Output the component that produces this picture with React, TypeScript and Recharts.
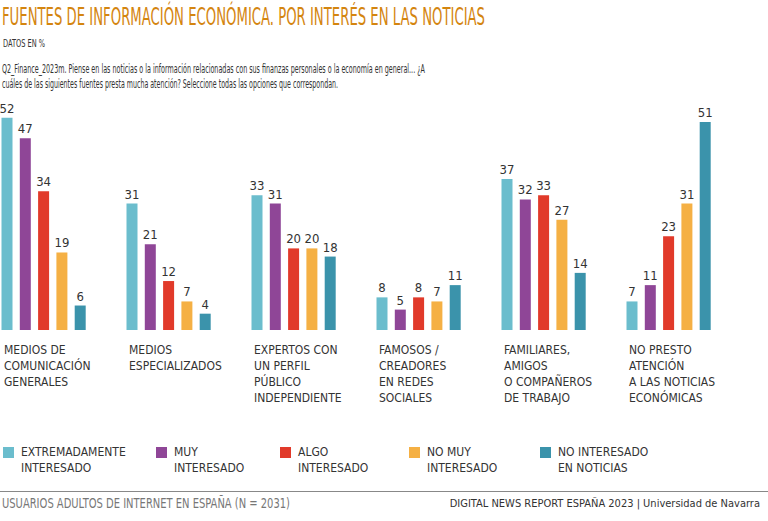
import React from 'react';
import { BarChart, Bar, XAxis, YAxis, LabelList } from 'recharts';

const categories = [
  ['MEDIOS DE', 'COMUNICACIÓN', 'GENERALES'],
  ['MEDIOS', 'ESPECIALIZADOS'],
  ['EXPERTOS CON', 'UN PERFIL', 'PÚBLICO', 'INDEPENDIENTE'],
  ['FAMOSOS /', 'CREADORES', 'EN REDES', 'SOCIALES'],
  ['FAMILIARES,', 'AMIGOS', 'O COMPAÑEROS', 'DE TRABAJO'],
  ['NO PRESTO', 'ATENCIÓN', 'A LAS NOTICIAS', 'ECONÓMICAS'],
];

const extremadamente = [52, 31, 33, 8, 37, 7];
const muy = [47, 21, 31, 5, 32, 11];
const algo = [34, 12, 20, 8, 33, 23];
const noMuy = [19, 7, 20, 7, 27, 31];
const noInteresado = [6, 4, 18, 11, 14, 51];

const seriesNames = [
  ['EXTREMADAMENTE', 'INTERESADO'],
  ['MUY', 'INTERESADO'],
  ['ALGO', 'INTERESADO'],
  ['NO MUY', 'INTERESADO'],
  ['NO INTERESADO', 'EN NOTICIAS'],
];
const seriesKeys = ['ext', 'muy', 'algo', 'noMuy', 'noInt'];
const COLORS = ['#6bbdcd', '#8f4697', '#e13a2a', '#f5b044', '#3b93ab'];

const data = categories.map((c, i) => ({
  cat: i,
  ext: extremadamente[i],
  muy: muy[i],
  algo: algo[i],
  noMuy: noMuy[i],
  noInt: noInteresado[i],
}));

const FONT = "'Liberation Sans Narrow', 'DejaVu Sans Condensed', sans-serif";

const CategoryTick = (props: any) => {
  const { x, y, payload } = props;
  const lines = categories[payload.value];
  return (
    <text x={x - 40} y={y + 16} fill="#333" fontSize={12} fontFamily={FONT}>
      {lines.map((l, i) => (
        <tspan key={i} x={x - 40} dy={i === 0 ? 0 : 16}>{l}</tspan>
      ))}
    </text>
  );
};

const legendX = [3, 156, 280, 409, 540];

export default function App() {
  return (
    <div style={{ position: 'absolute', left: 0, top: 0, width: 768, height: 521, background: '#fff', overflow: 'hidden', fontFamily: FONT }}>
      <svg width={768} height={521} style={{ position: 'absolute', left: 0, top: 0 }} fontFamily={FONT}>
        <text x={2} y={25} fontSize={25} fill="#d4850f" textLength={483} lengthAdjust="spacingAndGlyphs">
          FUENTES DE INFORMACIÓN ECONÓMICA. POR INTERÉS EN LAS NOTICIAS
        </text>
        <text x={3} y={47} fontSize={11} fill="#333" textLength={42} lengthAdjust="spacingAndGlyphs">DATOS EN %</text>
        <text x={2} y={73} fontSize={12} fill="#333" textLength={423} lengthAdjust="spacingAndGlyphs">
          Q2_Finance_2023m. Piense en las noticias o la información relacionadas con sus finanzas personales o la economía en general... ¿A
        </text>
        <text x={2} y={88} fontSize={12} fill="#333" textLength={336} lengthAdjust="spacingAndGlyphs">
          cuáles de las siguientes fuentes presta mucha atención? Seleccione todas las opciones que correspondan.
        </text>
        <line x1={0} x2={768} y1={491.5} y2={491.5} stroke="#888" strokeWidth={1} />
        <text x={2} y={508} fontSize={14} fill="#777" textLength={288} lengthAdjust="spacingAndGlyphs">
          USUARIOS ADULTOS DE INTERNET EN ESPAÑA (N = 2031)
        </text>
        <text x={760} y={507} fontSize={11} fill="#333" textAnchor="end">
          DIGITAL NEWS REPORT ESPAÑA 2023 | Universidad de Navarra
        </text>
      </svg>

      <div style={{ position: 'absolute', left: -20, top: 0 }}>
        <BarChart
          width={790}
          height={521}
          data={data}
          margin={{ top: 105.6, right: 38.5, left: 1.5, bottom: 111 }}
          barGap={7.3}
        >
          <XAxis dataKey="cat" axisLine={false} tickLine={false} tick={<CategoryTick />} height={80} interval={0} />
          <YAxis hide domain={[0, 55]} />
          {seriesKeys.map((k, i) => (
            <Bar key={k} dataKey={k} fill={COLORS[i]} barSize={11} isAnimationActive={false}>
              <LabelList dataKey={k} position="top" offset={5} fill="#333" fontSize={13} fontFamily={FONT} />
            </Bar>
          ))}
        </BarChart>
      </div>

      {seriesNames.map((n, i) => (
        <div key={i} style={{ position: 'absolute', left: legendX[i], top: 444 }}>
          <div style={{ position: 'absolute', left: 0, top: 3, width: 11, height: 11, background: COLORS[i] }} />
          <div style={{ position: 'absolute', left: 18, top: 0, fontSize: 12, lineHeight: '16px', color: '#333', whiteSpace: 'nowrap' }}>
            {n[0]}<br />{n[1]}
          </div>
        </div>
      ))}
    </div>
  );
}
